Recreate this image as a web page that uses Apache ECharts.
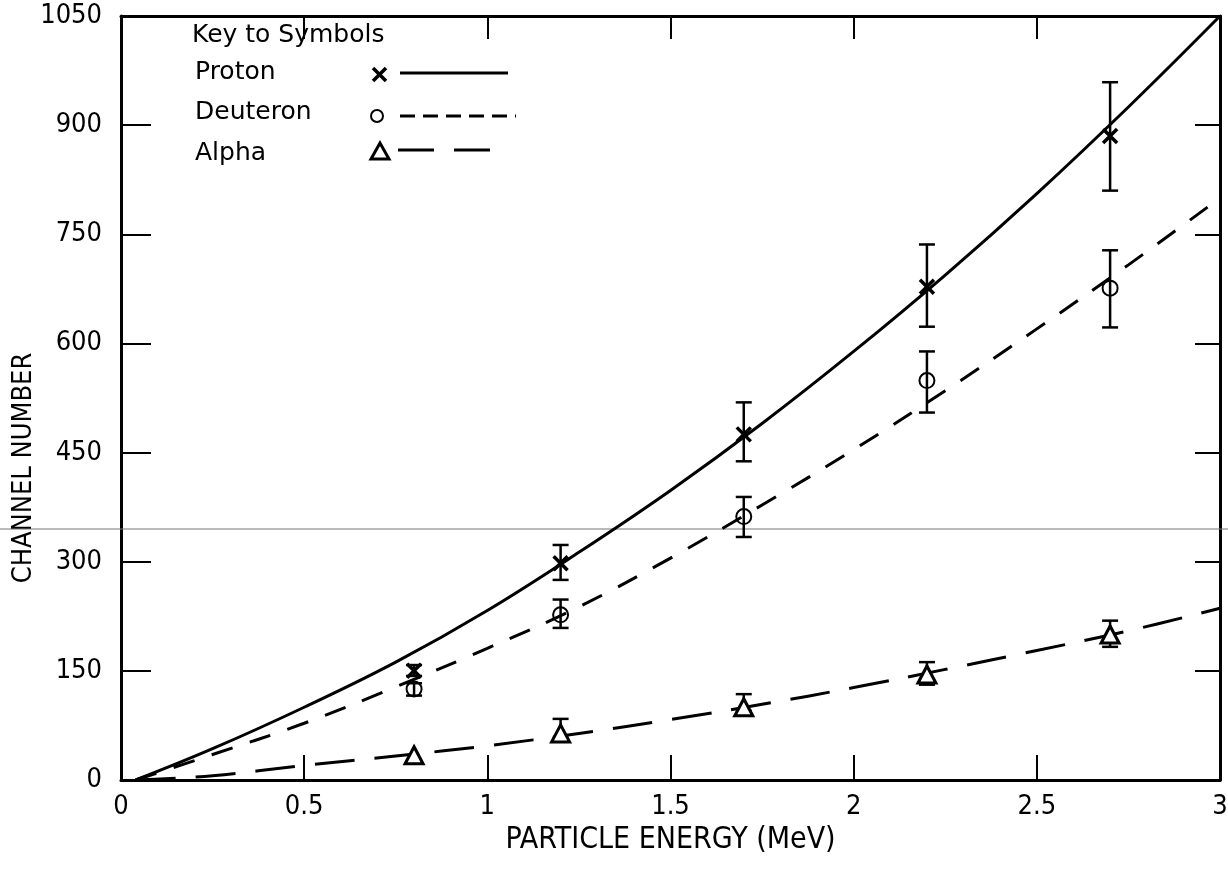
<!DOCTYPE html>
<html>
<head>
<meta charset="utf-8">
<script src="https://cdn.jsdelivr.net/npm/echarts@6/dist/echarts.min.js"></script>
<style>
  html, body { margin: 0; padding: 0; background: #fff; }
  #chart { width: 1228px; height: 879px; }
</style>
</head>
<body>
<div id="chart"></div>
<script>
// measured points (MeV, channel)
var energies = [0.8, 1.2, 1.7, 2.2, 2.7];
var protonY = [150, 298, 475, 678, 885];
var protonLo = [143, 275, 438, 623, 810];
var protonHi = [158, 323, 519, 736, 959];
var deuteronY = [125, 227, 362, 549, 676];
var deuteronLo = [116, 209, 334, 505, 622];
var deuteronHi = [133, 248, 389, 589, 728];
var alphaY = [34, 64, 100, 145, 200];
var alphaLo = [34, 58, 95, 131, 183];
var alphaHi = [34, 84, 118, 162, 219];

// fitted curves
var curveX = [0.04, 0.25, 0.5, 0.75, 1.0, 1.25, 1.5, 1.75, 2.0, 2.25, 2.5, 2.75, 3.0];
var protonCurve = [0, 43, 100, 162, 233, 313, 398, 490, 589, 694, 806, 925, 1050];
var deuteronCurve = [0, 35, 78, 128, 181, 238, 305, 378, 454, 535, 620, 708, 800];
var alphaCurve = [0, 6, 20, 33, 47, 64, 83, 104, 127, 152, 178, 205, 236];

var xTicks = { min: 0, max: 3, interval: 0.5 };
var yTicks = { min: 0, max: 1050, interval: 150 };

var numFont = "'Liberation Sans Narrow', 'DejaVu Sans Condensed', sans-serif";

function pairs(xs, ys) {
    var out = [];
    for (var i = 0; i < xs.length; i++) out.push([xs[i], ys[i]]);
    return out;
}
function bars(xs, lo, hi) {
    var out = [];
    for (var i = 0; i < xs.length; i++) {
        if (hi[i] > lo[i]) out.push([xs[i], lo[i], hi[i]]);
    }
    return out;
}
function plain(v) { return String(v); }

// vertical error bar with caps
function renderBar(params, api) {
    var x = api.value(0);
    var a = api.coord([x, api.value(1)]);
    var b = api.coord([x, api.value(2)]);
    var w = 8;
    var st = { stroke: '#000', lineWidth: 2.5 };
    return {
        type: 'group',
        children: [
            { type: 'line', shape: { x1: a[0], y1: a[1], x2: b[0], y2: b[1] }, style: st },
            { type: 'line', shape: { x1: a[0] - w, y1: a[1], x2: a[0] + w, y2: a[1] }, style: st },
            { type: 'line', shape: { x1: b[0] - w, y1: b[1], x2: b[0] + w, y2: b[1] }, style: st }
        ]
    };
}

var crossPath = 'path://M0,0L10,10M10,0L0,10';
var axisLine = { onZero: false, lineStyle: { color: '#000', width: 3 } };

var myChart = echarts.init(document.getElementById('chart'));

myChart.setOption({
    backgroundColor: '#fff',
    animation: false,
    grid: { left: 121, right: 8, top: 16, bottom: 99, outerBoundsMode: 'none' },
    xAxis: [
        {
            type: 'value', min: xTicks.min, max: xTicks.max, interval: xTicks.interval,
            name: 'PARTICLE ENERGY (MeV)', nameLocation: 'middle', nameGap: 44,
            nameTextStyle: { fontFamily: numFont, fontSize: 30, color: '#000' },
            axisLine: axisLine,
            axisTick: { inside: true, length: 25, lineStyle: { color: '#000', width: 2 } },
            axisLabel: { fontFamily: numFont, fontSize: 27, color: '#000', margin: 13, formatter: plain },
            splitLine: { show: false }
        },
        {
            type: 'value', position: 'top', min: xTicks.min, max: xTicks.max, interval: xTicks.interval,
            axisLine: axisLine,
            axisTick: { inside: true, length: 23, lineStyle: { color: '#000', width: 2 } },
            axisLabel: { show: false },
            splitLine: { show: false }
        }
    ],
    yAxis: [
        {
            type: 'value', min: yTicks.min, max: yTicks.max, interval: yTicks.interval,
            axisLine: axisLine,
            axisTick: { inside: true, length: 30, lineStyle: { color: '#000', width: 2 } },
            axisLabel: { fontFamily: numFont, fontSize: 27, color: '#000', margin: 19, formatter: plain },
            splitLine: { show: false }
        },
        {
            type: 'value', position: 'right', min: yTicks.min, max: yTicks.max, interval: yTicks.interval,
            axisLine: axisLine,
            axisTick: { inside: true, length: 25, lineStyle: { color: '#000', width: 2 } },
            axisLabel: { show: false },
            splitLine: { show: false }
        }
    ],
    series: [
        // curves
        {
            type: 'line', name: 'Proton fit', data: pairs(curveX, protonCurve), smooth: 0.4,
            symbol: 'none', lineStyle: { color: '#000', width: 3 }
        },
        {
            type: 'line', name: 'Deuteron fit', data: pairs(curveX, deuteronCurve), smooth: 0.4,
            symbol: 'none', lineStyle: { color: '#000', width: 3, type: [22, 18] }
        },
        {
            type: 'line', name: 'Alpha fit', data: pairs(curveX, alphaCurve), smooth: 0.4,
            symbol: 'none', lineStyle: { color: '#000', width: 3, type: [40, 20] }
        },
        // error bars
        { type: 'custom', renderItem: renderBar, data: bars(energies, protonLo, protonHi), z: 3 },
        { type: 'custom', renderItem: renderBar, data: bars(energies, deuteronLo, deuteronHi), z: 3 },
        { type: 'custom', renderItem: renderBar, data: bars(energies, alphaLo, alphaHi), z: 3 },
        // points
        {
            type: 'scatter', name: 'Proton', data: pairs(energies, protonY), symbol: crossPath, symbolSize: 14,
            itemStyle: { color: 'none', borderColor: '#000', borderWidth: 3.5, opacity: 1 }, z: 4
        },
        {
            type: 'scatter', name: 'Deuteron', data: pairs(energies, deuteronY), symbol: 'circle', symbolSize: 15,
            itemStyle: { color: 'rgba(255,255,255,0)', borderColor: '#000', borderWidth: 2, opacity: 1 }, z: 4
        },
        {
            type: 'scatter', name: 'Alpha', data: pairs(energies, alphaY), symbol: 'triangle', symbolSize: [18, 17],
            itemStyle: { color: '#fff', borderColor: '#000', borderWidth: 3, opacity: 1 }, z: 4
        }
    ],
    graphic: [
        // scan line across the sheet
        { type: 'line', shape: { x1: 0, y1: 529, x2: 1228, y2: 529 }, style: { stroke: '#777', lineWidth: 1.2 }, z: 1 },
        // y axis title
        {
            type: 'text', x: 24, y: 468, rotation: Math.PI / 2,
            style: { text: 'CHANNEL NUMBER', fontFamily: numFont, fontSize: 27, fill: '#000', textAlign: 'center', textVerticalAlign: 'middle' }
        },
        // key
        { type: 'text', x: 192, y: 35, style: { text: 'Key to Symbols', fontFamily: 'DejaVu Sans', fontSize: 25, fill: '#000', textVerticalAlign: 'middle' } },
        { type: 'text', x: 195, y: 72, style: { text: 'Proton', fontFamily: 'DejaVu Sans', fontSize: 25, fill: '#000', textVerticalAlign: 'middle' } },
        { type: 'text', x: 195, y: 112, style: { text: 'Deuteron', fontFamily: 'DejaVu Sans', fontSize: 25, fill: '#000', textVerticalAlign: 'middle' } },
        { type: 'text', x: 195, y: 153, style: { text: 'Alpha', fontFamily: 'DejaVu Sans', fontSize: 25, fill: '#000', textVerticalAlign: 'middle' } },
        { type: 'line', shape: { x1: 373, y1: 68, x2: 386, y2: 81 }, style: { stroke: '#000', lineWidth: 3.5 } },
        { type: 'line', shape: { x1: 386, y1: 68, x2: 373, y2: 81 }, style: { stroke: '#000', lineWidth: 3.5 } },
        { type: 'line', shape: { x1: 400, y1: 73, x2: 508, y2: 73 }, style: { stroke: '#000', lineWidth: 3 } },
        { type: 'circle', shape: { cx: 377, cy: 116, r: 6 }, style: { stroke: '#000', lineWidth: 2, fill: 'none' } },
        { type: 'line', shape: { x1: 400, y1: 116, x2: 516, y2: 116 }, style: { stroke: '#000', lineWidth: 3, lineDash: [15, 8] } },
        { type: 'polygon', shape: { points: [[380, 143], [371, 159], [389, 159]] }, style: { stroke: '#000', lineWidth: 3, fill: 'none' } },
        { type: 'line', shape: { x1: 398, y1: 150, x2: 495, y2: 150 }, style: { stroke: '#000', lineWidth: 3, lineDash: [36, 20] } }
    ]
});
</script>
</body>
</html>
